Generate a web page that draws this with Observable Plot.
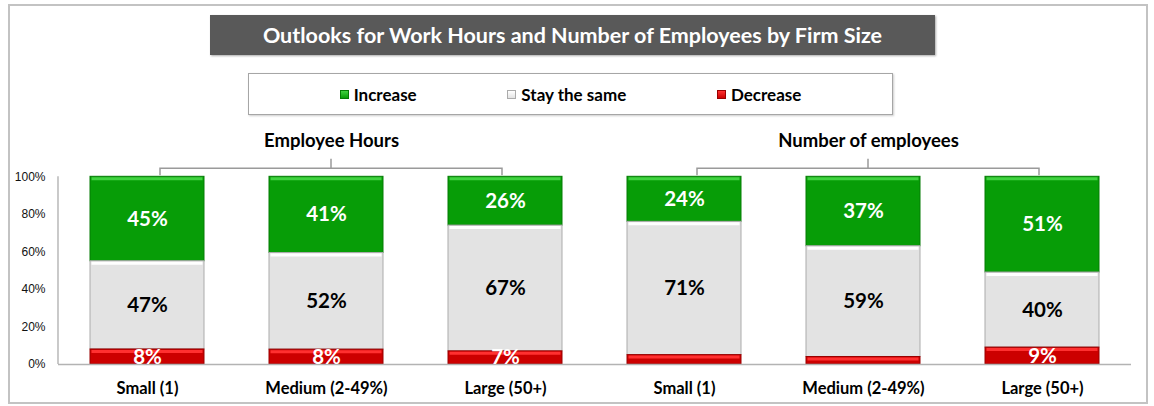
<!DOCTYPE html>
<html><head><meta charset="utf-8">
<script src="https://cdn.jsdelivr.net/npm/d3@7"></script>
<script src="https://cdn.jsdelivr.net/npm/@observablehq/plot@0.6"></script>
<style>
html,body{margin:0;padding:0;background:#fff;}
#wrap{position:relative;width:1154px;height:406px;overflow:hidden;font-family:Lato, sans-serif;}
#frame{position:absolute;left:8px;top:4px;width:1140px;height:400px;border:2px solid #c3c3c3;box-sizing:border-box;}
#title{position:absolute;left:210px;top:15px;width:725px;height:40px;background:#595959;color:#fff;font-weight:700;font-size:21.5px;display:flex;align-items:center;justify-content:center;box-shadow:1px 1px 2px #aaa;}
#legend{position:absolute;left:248px;top:73px;width:645px;height:42px;border:1px solid #a6a6a6;box-sizing:border-box;display:flex;align-items:center;justify-content:space-evenly;font-weight:700;font-size:17px;color:#000;box-shadow:1px 1px 2px #ccc;}
.item{display:flex;align-items:center;gap:5px;}
.sw{width:9px;height:9px;box-sizing:border-box;border:1px solid;}
#chart{position:absolute;left:0;top:120px;}
</style></head>
<body>
<div id="wrap">
  <div id="frame"></div>
  <div id="title"></div>
  <div id="legend"></div>
  <div id="chart"></div>
</div>
<script>
const chartTitle = "Outlooks for Work Hours and Number of Employees by Firm Size";
const groups = ["Employee Hours", "Number of employees"];
const sizes = ["Small (1)", "Medium (2-49%)", "Large (50+)"];
const outcomes = ["Increase", "Stay the same", "Decrease"];
const hoursIncrease = [45, 41, 26];
const hoursSame = [47, 52, 67];
const hoursDecrease = [8, 8, 7];
const employeesIncrease = [24, 37, 51];
const employeesSame = [71, 59, 40];
const employeesDecrease = [5, 4, 9];
const yTicks = [0, 0.2, 0.4, 0.6, 0.8, 1];

const series = {
  "Employee Hours": {"Increase": hoursIncrease, "Stay the same": hoursSame, "Decrease": hoursDecrease},
  "Number of employees": {"Increase": employeesIncrease, "Stay the same": employeesSame, "Decrease": employeesDecrease}
};
const look = {
  "Increase": {fill: "#079d07", edge: "#057c05", light: "#40d240", text: "#ffffff"},
  "Stay the same": {fill: "#e3e3e3", edge: "#ababab", light: "#ffffff", text: "#000000"},
  "Decrease": {fill: "#cc0000", edge: "#990000", light: "#ff3030", text: "#ffffff"}
};
const key = (g, s) => g + "|" + s;
const rows = groups.flatMap(g => outcomes.flatMap(o => sizes.map((s, i) => ({
  group: g, size: s, key: key(g, s), outcome: o, value: series[g][o][i]
}))));
const xDomain = groups.flatMap(g => sizes.map(s => key(g, s)));
const stackOpts = {x: "key", y: "value", z: "outcome", order: ["Decrease", "Stay the same", "Increase"], offset: "normalize"};

document.getElementById("title").textContent = chartTitle;
const legend = d3.select("#legend");
outcomes.forEach(o => {
  const it = legend.append("div").attr("class", "item");
  it.append("div").attr("class", "sw")
    .style("background", `linear-gradient(${look[o].light}, ${look[o].fill})`)
    .style("border-color", look[o].edge);
  it.append("span").text(o);
});

const plot = Plot.plot({
  width: 1154, height: 286,
  marginTop: 0, marginBottom: 42, marginLeft: 58, marginRight: 23,
  style: {fontFamily: "Lato, sans-serif", background: "transparent", overflow: "visible"},
  x: {domain: xDomain, paddingInner: 0.363, paddingOuter: 0.178, label: null},
  y: {domain: [0, 1.3], label: null},
  color: {type: "identity"},
  marks: [
    Plot.barY(rows, Plot.stackY({...stackOpts,
      fill: d => look[d.outcome].fill, stroke: d => look[d.outcome].edge, strokeWidth: 1})),
    Plot.tickY(rows, Plot.stackY2({...stackOpts,
      stroke: d => look[d.outcome].light, strokeWidth: 3, dy: 2, insetLeft: 1.5, insetRight: 1.5})),
    Plot.ruleY([0], {stroke: "#b3b3b3", strokeWidth: 1.5}),
    Plot.axisY({ticks: yTicks, tickFormat: d3.format(".0%"), tickSize: 0, tickPadding: 13,
      fontSize: 12, fontFamily: "'Liberation Sans', Arial, sans-serif", color: "#111"}),
    Plot.axisX({tickSize: 0, tickPadding: 18, fontSize: 16.5, fontWeight: 700, color: "#000",
      tickFormat: d => d.split("|")[1]}),
    Plot.text(rows, Plot.stackY({...stackOpts,
      text: d => d.value >= 6 ? d.value + "%" : null,
      fill: d => look[d.outcome].text, fontSize: 20.5, fontWeight: 700})),
    Plot.text(groups, {x: g => key(g, sizes[1]), y: () => 1.19, text: d => d,
      fontSize: 18.5, fontWeight: 700, fill: "#000", dx: 5})
  ]
});
document.getElementById("chart").appendChild(plot);

// y-axis line and group brackets, positioned through the plot's own scales
const sx = plot.scale("x"), sy = plot.scale("y");
const svg = d3.select(plot);
svg.append("line")
  .attr("x1", sx.range[0]).attr("x2", sx.range[0])
  .attr("y1", sy.apply(0)).attr("y2", sy.apply(1))
  .attr("stroke", "#a6a6a6").attr("stroke-width", 1.2);
groups.forEach(g => {
  const c0 = sx.apply(key(g, sizes[0])) + sx.bandwidth / 2 + 13;
  const c2 = sx.apply(key(g, sizes[2])) + sx.bandwidth / 2 - 3;
  const m = (c0 + c2) / 2;
  const yb = sy.apply(1.043), y1 = sy.apply(1) - 1, yt = sy.apply(1.093);
  svg.append("path")
    .attr("d", `M${c0},${y1}V${yb}H${c2}V${y1}M${m},${yb}V${yt}`)
    .attr("fill", "none").attr("stroke", "#9a9a9a").attr("stroke-width", 1.5);
});
</script>
</body></html>
